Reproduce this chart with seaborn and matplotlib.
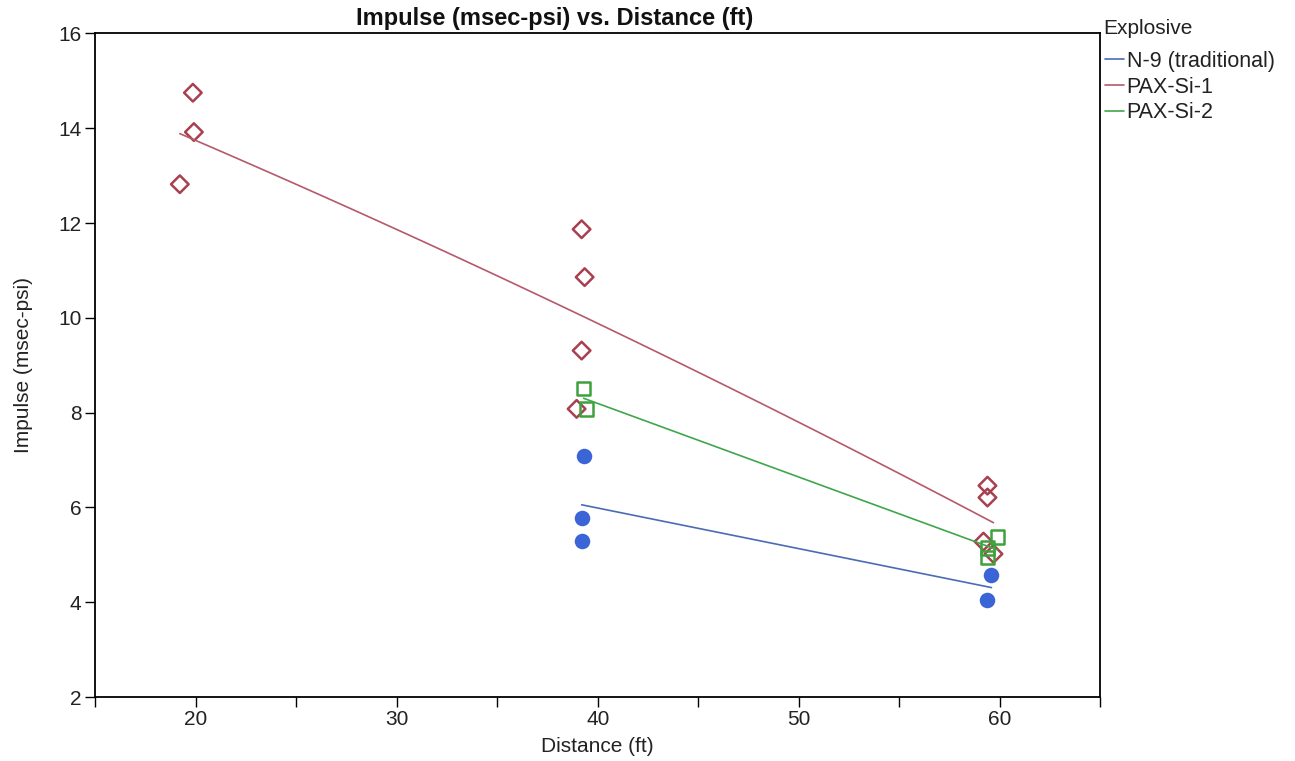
import numpy as np
import pandas as pd
import seaborn as sns
import matplotlib
matplotlib.use("Agg")
import matplotlib.pyplot as plt
from matplotlib.lines import Line2D
from matplotlib.ticker import MultipleLocator

# data
n9_dist = [39.3, 39.2, 39.2, 59.6, 59.4]
n9_imp = [7.09, 5.78, 5.30, 4.58, 4.05]

pax1_dist = [19.2, 19.85, 19.9, 39.2, 39.35, 39.2, 38.95, 59.4, 59.4, 59.2, 59.7]
pax1_imp = [12.82, 14.75, 13.92, 11.87, 10.86, 9.31, 8.08, 6.46, 6.21, 5.28, 5.02]

pax2_dist = [39.3, 39.45, 59.9, 59.4, 59.4]
pax2_imp = [8.51, 8.08, 5.38, 5.15, 4.94]

groups = ["N-9 (traditional)", "PAX-Si-1", "PAX-Si-2"]

df = pd.DataFrame({
    "Distance": n9_dist + pax1_dist + pax2_dist,
    "Impulse": n9_imp + pax1_imp + pax2_imp,
    "Explosive": [groups[0]] * len(n9_dist) + [groups[1]] * len(pax1_dist) + [groups[2]] * len(pax2_dist),
})

sns.set_style("ticks")
plt.rcParams["font.family"] = ["Liberation Sans", "DejaVu Sans"]

fig = plt.figure(figsize=(12.95, 7.61), dpi=100)
ax = fig.add_axes([0.0737, 0.084, 0.7757, 0.872])

line_cols = {"N-9 (traditional)": "#4A6BB5", "PAX-Si-1": "#B45A6A", "PAX-Si-2": "#3FA64A"}
mark_cols = {"N-9 (traditional)": "#3B64D6", "PAX-Si-1": "#A8404F", "PAX-Si-2": "#3DA13D"}
markers = {"N-9 (traditional)": "o", "PAX-Si-1": "D", "PAX-Si-2": "s"}
orders = {"N-9 (traditional)": 1, "PAX-Si-1": 2, "PAX-Si-2": 1}

for g in groups:
    sub = df[df["Explosive"] == g]
    if g == "N-9 (traditional)":
        skws = {"s": 125, "color": mark_cols[g], "alpha": 1, "linewidths": 0}
    else:
        skws = {"s": 80 if g == "PAX-Si-1" else 95, "facecolors": "none",
                "edgecolors": mark_cols[g], "linewidths": 1.8, "alpha": 1}
    sns.regplot(data=sub, x="Distance", y="Impulse", ax=ax, order=orders[g],
                ci=None, truncate=True, marker=markers[g], color=mark_cols[g],
                scatter_kws=skws, line_kws={"color": line_cols[g], "lw": 1.2})

ax.set_xlim(15, 65)
ax.set_ylim(2, 16)
ax.xaxis.set_major_locator(MultipleLocator(10))
ax.xaxis.set_minor_locator(MultipleLocator(5))
ax.yaxis.set_major_locator(MultipleLocator(2))
ax.tick_params(axis="both", which="major", labelsize=15, length=7, width=1,
               color="black", labelcolor="#222222", pad=2)
ax.tick_params(axis="y", which="major", pad=3)
ax.tick_params(axis="x", which="minor", length=7, width=1, color="black")
for s in ax.spines.values():
    s.set_visible(True)
    s.set_color("black")
    s.set_linewidth(1.3)

ax.set_xlabel("Distance (ft)", fontsize=15, labelpad=6, color="#222222")
ax.set_ylabel("Impulse (msec-psi)", fontsize=15, labelpad=18, color="#222222")
# title sits centred over the plot area plus the y label, not over the axes alone
fig.text(555 / 1295, 1 - 19 / 761, "Impulse (msec-psi) vs. Distance (ft)",
         fontsize=17, fontweight="bold", ha="center", va="center", color="#111111")

fig.text(1103 / 1295, 1 - 28 / 761, "Explosive", fontsize=15, ha="left",
         va="center", color="#222222")
handles = [Line2D([0], [0], color=line_cols[g], lw=1.2) for g in groups]
leg = fig.legend(handles, groups, loc="upper left",
                 bbox_to_anchor=(1105 / 1295, 1 - 51 / 761), frameon=False,
                 fontsize=15.5, handlelength=0.9, handletextpad=0.1,
                 labelspacing=0.22, borderaxespad=0, borderpad=0)
for t in leg.get_texts():
    t.set_color("#222222")

fig.savefig("out.png", dpi=100, facecolor="white")
